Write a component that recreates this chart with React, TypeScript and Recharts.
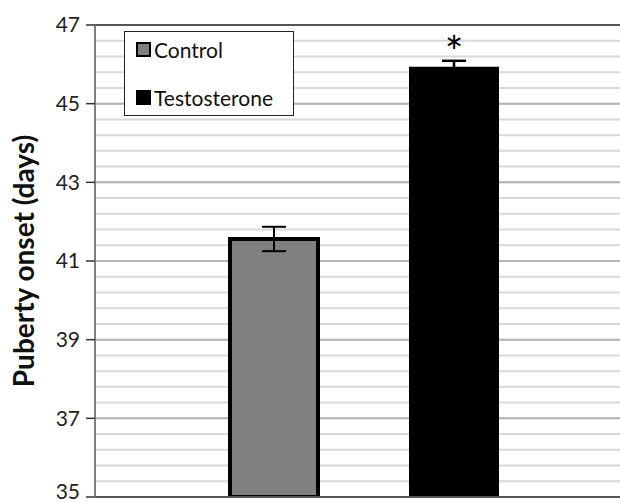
import { BarChart, Bar, XAxis, YAxis, CartesianGrid, ReferenceLine, ErrorBar, LabelList } from "recharts";

// group means (days) with SEM
const groups = ["Puberty onset"];
const controlMean = [41.56];
const controlErr = [0.31];
const testosteroneMean = [45.91];
const testosteroneErr = [0.18];
const significance = ["*"];

const yTicks = [35, 37, 39, 41, 43, 45, 47];
// light grid every 0.4 day
const minorTicks = [
  35, 35.4, 35.8, 36.2, 36.6, 37, 37.4, 37.8, 38.2, 38.6, 39, 39.4, 39.8, 40.2, 40.6,
  41, 41.4, 41.8, 42.2, 42.6, 43, 43.4, 43.8, 44.2, 44.6, 45, 45.4, 45.8, 46.2, 46.6, 47,
];

const data = groups.map((g, i) => ({
  group: g,
  control: controlMean[i],
  controlErr: controlErr[i],
  testosterone: testosteroneMean[i],
  testosteroneErr: testosteroneErr[i],
  sig: significance[i],
}));

const FONT = "Lato, 'Open Sans', sans-serif";

const legendItems = [
  { name: "Control", fill: "#808080" },
  { name: "Testosterone", fill: "#000000" },
];

function LegendBox() {
  return (
    <div
      style={{
        position: "absolute",
        left: 124,
        top: 31,
        width: 170,
        height: 85,
        border: "1.5px solid #222",
        background: "#fff",
        boxSizing: "border-box",
        padding: "4px 0 0 11px",
        fontFamily: FONT,
        fontSize: 21,
        color: "#111",
      }}
    >
      {legendItems.map((it, i) => (
        <div key={it.name} style={{ display: "flex", alignItems: "center", height: 26, marginBottom: i === 0 ? 22 : 0 }}>
          <span
            style={{
              display: "inline-block",
              width: 11,
              height: 11,
              background: it.fill,
              border: "2px solid #000",
              marginRight: 3,
            }}
          />
          {it.name}
        </div>
      ))}
    </div>
  );
}

const SigMark = (props: any) => {
  const { x, y, width, value } = props;
  return (
    <text x={x + width / 2} y={y} textAnchor="middle" fontSize={44} fontFamily={FONT} fill="#000">
      {value}
    </text>
  );
};

// the lowest label sits on the bottom edge, nudge it up so it stays on the page
const YTick = (props: any) => {
  const { x, y, payload } = props;
  const lift = payload.value === yTicks[0] ? -5 : 0;
  return (
    <text x={x} y={y + lift} dy="0.355em" textAnchor="end" fontSize={21} fontFamily={FONT} fill="#222">
      {payload.value}
    </text>
  );
};

export default function App() {
  return (
    <div style={{ position: "absolute", left: 0, top: 0, width: 620, height: 503, overflow: "hidden", background: "#fff" }}>
      <BarChart
        width={640}
        height={503}
        data={data}
        margin={{ top: 25, right: 8, left: 0, bottom: 6 }}
        barSize={88}
        barGap={92}
        style={{ overflow: "visible" }}
      >
        <YAxis yAxisId="minor" hide domain={[35, 47]} ticks={minorTicks} interval={0} allowDataOverflow />
        <CartesianGrid yAxisId="minor" vertical={false} stroke="#d9d9d9" strokeWidth={2} />
        <CartesianGrid vertical={false} stroke="#b5b5b5" strokeWidth={2} />
        <XAxis dataKey="group" hide />
        <YAxis
          domain={[35, 47]}
          ticks={yTicks}
          interval={0}
          width={95}
          tickSize={9}
          tickMargin={6}
          allowDataOverflow
          axisLine={{ stroke: "#7f7f7f", strokeWidth: 2 }}
          tickLine={{ stroke: "#333", strokeWidth: 1.5 }}
          tick={<YTick />}
          label={{
            value: "Puberty onset (days)",
            angle: -90,
            position: "insideLeft",
            dx: 19,
            dy: 0,
            style: { textAnchor: "middle", fontSize: 28, fontWeight: 700, fontFamily: FONT, fill: "#111" },
          }}
        />
        <ReferenceLine y={47} stroke="#555" strokeWidth={2} />
        <ReferenceLine y={35} stroke="#555" strokeWidth={2} />
        <Bar dataKey="control" name="Control" fill="#808080" stroke="#000" strokeWidth={4} isAnimationActive={false}>
          <ErrorBar dataKey="controlErr" width={12} stroke="#000" strokeWidth={2} />
        </Bar>
        <Bar dataKey="testosterone" name="Testosterone" fill="#000" stroke="#000" strokeWidth={2} isAnimationActive={false}>
          <ErrorBar dataKey="testosteroneErr" width={12} stroke="#000" strokeWidth={2.5} />
          <LabelList dataKey="sig" content={SigMark} />
        </Bar>
      </BarChart>
      <LegendBox />
    </div>
  );
}
